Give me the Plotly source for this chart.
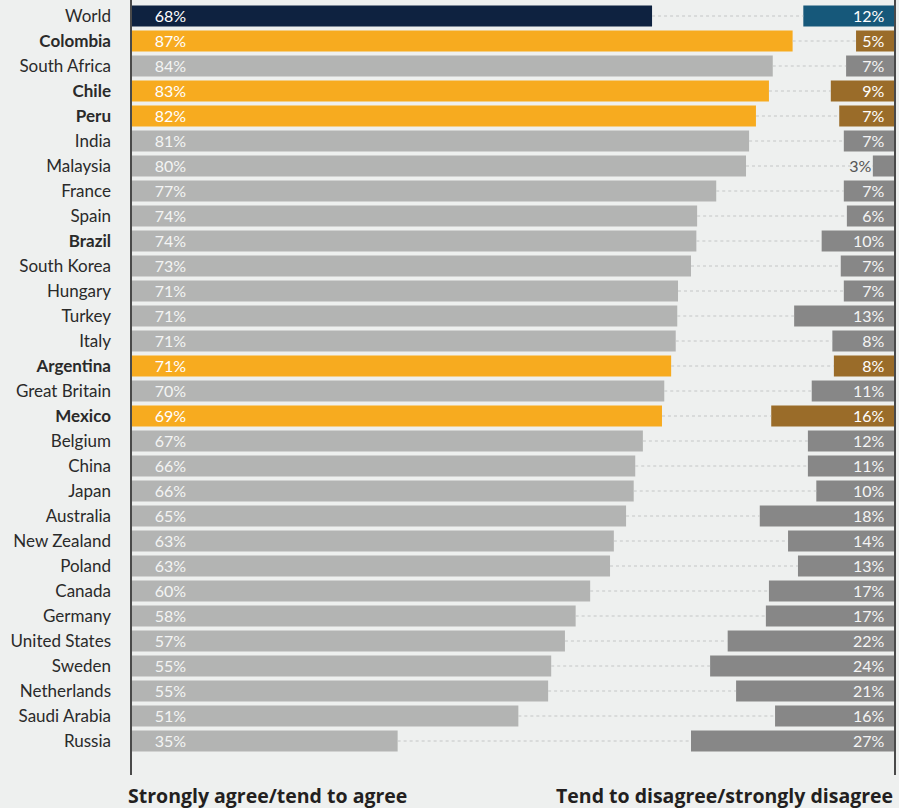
import plotly.graph_objects as go

# survey: share agreeing / disagreeing, by country
countries = ["World", "Colombia", "South Africa", "Chile", "Peru", "India", "Malaysia", "France",
             "Spain", "Brazil", "South Korea", "Hungary", "Turkey", "Italy", "Argentina",
             "Great Britain", "Mexico", "Belgium", "China", "Japan", "Australia", "New Zealand",
             "Poland", "Canada", "Germany", "United States", "Sweden", "Netherlands",
             "Saudi Arabia", "Russia"]
agree = [68.2, 86.6, 84.0, 83.5, 81.8, 80.9, 80.5, 76.6, 74.1, 74.0, 73.3, 71.6, 71.5, 71.3, 70.7,
         69.8, 69.5, 67.0, 66.0, 65.8, 64.8, 63.2, 62.7, 60.1, 58.2, 56.8, 55.0, 54.6, 50.7, 34.9]
disagree = [12.0, 5.1, 6.4, 8.4, 7.3, 6.7, 2.9, 6.7, 6.3, 9.6, 7.1, 6.7, 13.2, 8.2, 8.0,
            10.9, 16.2, 11.4, 11.4, 10.3, 17.7, 14.0, 12.7, 16.5, 16.9, 21.9, 24.2, 20.8, 15.7, 26.7]
agree_labels = [68, 87, 84, 83, 82, 81, 80, 77, 74, 74, 73, 71, 71, 71, 71,
                70, 69, 67, 66, 66, 65, 63, 63, 60, 58, 57, 55, 55, 51, 35]
disagree_labels = [12, 5, 7, 9, 7, 7, 3, 7, 6, 10, 7, 7, 13, 8, 8,
                   11, 16, 12, 11, 10, 18, 14, 13, 17, 17, 22, 24, 21, 16, 27]
highlight = ["Colombia", "Chile", "Peru", "Argentina", "Mexico"]
bold_names = ["Colombia", "Chile", "Peru", "Brazil", "Argentina", "Mexico"]

FONT = "Lato"
BG = "#eef0ef"

ypos = list(range(len(countries)))
left_colors, right_colors = [], []
for c in countries:
    if c == "World":
        left_colors.append("#0e2240"); right_colors.append("#16587a")
    elif c in highlight:
        left_colors.append("#f7ab1f"); right_colors.append("#9a6c29")
    else:
        left_colors.append("#b3b4b3"); right_colors.append("#878787")

fig = go.Figure()

# dotted connectors
lx, ly = [], []
for a, d, y in zip(agree, disagree, ypos):
    lx += [a, 100 - d, None]
    ly += [y, y, None]
fig.add_trace(go.Scatter(x=lx, y=ly, mode="lines", line=dict(color="#c4c6c6", width=1, dash="dot"),
                         hoverinfo="skip", showlegend=False))

fig.add_trace(go.Bar(x=agree, y=ypos, orientation="h", base=0, marker=dict(color=left_colors, line_width=0),
                     width=0.84, showlegend=False))
fig.add_trace(go.Bar(x=disagree, y=ypos, orientation="h", base=[100 - d for d in disagree],
                     marker=dict(color=right_colors, line_width=0), width=0.84, showlegend=False))

# value labels
lcol = ["#ffffff" if c == "World" or c in highlight else "#f4f4f4" for c in countries]
fig.add_trace(go.Scatter(x=[3.1] * len(countries), y=[y + 0.06 for y in ypos], mode="text",
                         text=[f"{v}%" for v in agree_labels], textposition="middle right",
                         textfont=dict(family=FONT, size=16, color=lcol), hoverinfo="skip", showlegend=False))
rx, rt, rc = [], [], []
for d, lab, c in zip(disagree, disagree_labels, countries):
    if d < 4:
        rx.append(100 - d - 0.2); rc.append("#555555")
    else:
        rx.append(98.6); rc.append("#ffffff" if c == "World" or c in highlight else "#f4f4f4")
    rt.append(f"{lab}%")
fig.add_trace(go.Scatter(x=rx, y=[y + 0.06 for y in ypos], mode="text", text=rt, textposition="middle left",
                         textfont=dict(family=FONT, size=16, color=rc), hoverinfo="skip", showlegend=False))

ticktext = [f"<b>{c}</b>" if c in bold_names else c for c in countries]

fig.update_layout(
    width=899, height=808,
    margin=dict(l=131, r=4, t=0, b=33),
    paper_bgcolor=BG, plot_bgcolor=BG,
    barmode="overlay",
    font=dict(family=FONT, color="#231f20"),
    xaxis=dict(range=[0, 100], showgrid=False, zeroline=False, showticklabels=False, fixedrange=True),
    yaxis=dict(range=[30.36, -0.64], tickvals=ypos, ticktext=ticktext, showgrid=False, zeroline=False,
               ticks="", ticklabelstandoff=19, tickfont=dict(family=FONT, size=17, color="#2a2a2a")),
    shapes=[
        dict(type="line", xref="paper", yref="paper", x0=0, x1=0, y0=0, y1=1,
             line=dict(color="#4a4a4a", width=2)),
        dict(type="line", xref="paper", yref="paper", x0=1, x1=1, y0=0, y1=1,
             line=dict(color="#4a4a4a", width=2)),
    ],
    annotations=[
        dict(text="<b>Strongly agree/tend to agree</b>", xref="paper", yref="paper", x=-0.007, y=0,
             xanchor="left", yanchor="top", yshift=-5, showarrow=False,
             font=dict(family="Open Sans", size=19.5, color="#231f20")),
        dict(text="<b>Tend to disagree/strongly disagree</b>", xref="paper", yref="paper", x=1, y=0,
             xanchor="right", yanchor="top", yshift=-5, showarrow=False,
             font=dict(family="Open Sans", size=19.5, color="#231f20")),
    ],
)

fig.write_html("out.html", config={"displayModeBar": False},
               post_script="document.body.style.margin='0';")
